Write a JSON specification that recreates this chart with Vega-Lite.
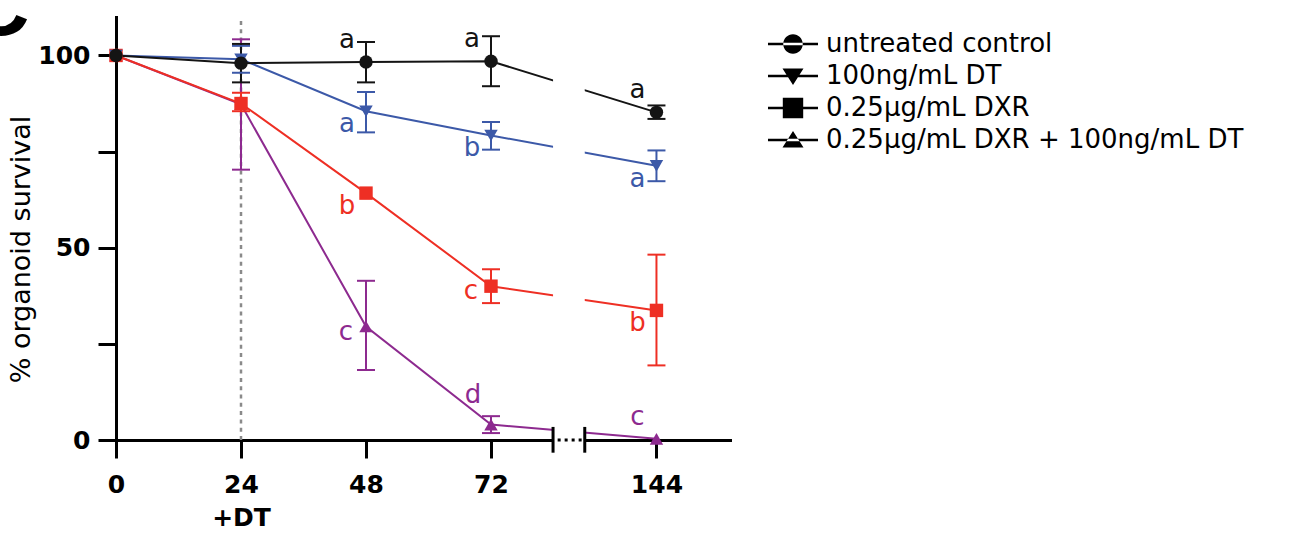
{
  "$schema": "https://vega.github.io/schema/vega-lite/v6.json",
  "width": 614,
  "height": 423,
  "autosize": {"type": "none"},
  "padding": {"left": 116, "top": 17, "right": 561, "bottom": 93},
  "background": "white",
  "title": {"text": "C", "anchor": "start", "frame": "group", "fontSize": 85, "fontWeight": "bold", "font": "Liberation Sans", "color": "black", "baseline": "alphabetic", "offset": -18, "dx": -148, "dy": 86},
  "config": {
    "view": {"stroke": null},
    "font": "DejaVu Sans",
    "legend": {
      "orient": "none", "legendX": 662, "legendY": 12, "padding": 0,
      "symbolSize": 900, "symbolStrokeWidth": 0, "symbolOpacity": 1,
      "labelOffset": 18, "labelFont": "DejaVu Sans", "labelFontSize": 26, "labelColor": "black",
      "labelLimit": 700, "rowPadding": 4, "title": null
    }
  },
  "datasets": {
    "obs": [
      {"group": "0.25μg/mL DXR + 100ng/mL DT", "t": 0, "v": 100, "lo": null, "hi": null},
      {"group": "0.25μg/mL DXR + 100ng/mL DT", "t": 24, "v": 87.3, "lo": 70.3, "hi": 104.2},
      {"group": "0.25μg/mL DXR + 100ng/mL DT", "t": 48, "v": 29.5, "lo": 18.2, "hi": 41.4},
      {"group": "0.25μg/mL DXR + 100ng/mL DT", "t": 72, "v": 4, "lo": 1.8, "hi": 6.2},
      {"group": "0.25μg/mL DXR + 100ng/mL DT", "t": 144, "v": 0.3, "lo": null, "hi": null},
      {"group": "0.25μg/mL DXR", "t": 0, "v": 100, "lo": null, "hi": null},
      {"group": "0.25μg/mL DXR", "t": 24, "v": 87.5, "lo": 85.5, "hi": 90.3},
      {"group": "0.25μg/mL DXR", "t": 48, "v": 64.2, "lo": null, "hi": null},
      {"group": "0.25μg/mL DXR", "t": 72, "v": 40, "lo": 35.6, "hi": 44.4},
      {"group": "0.25μg/mL DXR", "t": 144, "v": 33.7, "lo": 19.4, "hi": 48.2},
      {"group": "100ng/mL DT", "t": 0, "v": 100, "lo": null, "hi": null},
      {"group": "100ng/mL DT", "t": 24, "v": 99, "lo": 95.5, "hi": 102.5},
      {"group": "100ng/mL DT", "t": 48, "v": 85.5, "lo": 80, "hi": 90.5},
      {"group": "100ng/mL DT", "t": 72, "v": 79.2, "lo": 75.5, "hi": 82.7},
      {"group": "100ng/mL DT", "t": 144, "v": 71.3, "lo": 67.3, "hi": 75.3},
      {"group": "untreated control", "t": 0, "v": 100, "lo": null, "hi": null},
      {"group": "untreated control", "t": 24, "v": 98, "lo": 93, "hi": 103},
      {"group": "untreated control", "t": 48, "v": 98.3, "lo": 93, "hi": 103.5},
      {"group": "untreated control", "t": 72, "v": 98.5, "lo": 92, "hi": 105},
      {"group": "untreated control", "t": 144, "v": 85.2, "lo": 83.5, "hi": 87}
    ],
    "letters": [
      {"group": "untreated control", "t": 48, "v": 98.3, "label": "a", "place": "above"},
      {"group": "untreated control", "t": 72, "v": 98.5, "label": "a", "place": "above"},
      {"group": "untreated control", "t": 144, "v": 85.2, "label": "a", "place": "above"},
      {"group": "100ng/mL DT", "t": 48, "v": 85.5, "label": "a", "place": "below"},
      {"group": "100ng/mL DT", "t": 72, "v": 79.2, "label": "b", "place": "below"},
      {"group": "100ng/mL DT", "t": 144, "v": 71.3, "label": "a", "place": "below"},
      {"group": "0.25μg/mL DXR", "t": 48, "v": 64.2, "label": "b", "place": "below"},
      {"group": "0.25μg/mL DXR", "t": 72, "v": 40, "label": "c", "place": "left"},
      {"group": "0.25μg/mL DXR", "t": 144, "v": 33.7, "label": "b", "place": "below"},
      {"group": "0.25μg/mL DXR + 100ng/mL DT", "t": 48, "v": 29.5, "label": "c", "place": "left"},
      {"group": "0.25μg/mL DXR + 100ng/mL DT", "t": 72, "v": 4, "label": "d", "place": "high"},
      {"group": "0.25μg/mL DXR + 100ng/mL DT", "t": 144, "v": 0.3, "label": "c", "place": "above"}
    ],
    "guides": [{"t": 24}],
    "brk": [{"t": 99}, {"t": 112.8}]
  },
  "layer": [
    {
      "data": {"name": "obs"},
      "mark": {"type": "line", "strokeWidth": 2},
      "encoding": {
        "x": {"field": "t", "type": "quantitative",
          "scale": {"type": "linear", "domain": [0, 72, 176], "range": [0, 375, 614], "nice": false, "zero": false},
          "axis": {"values": [0, 24, 48, 72, 144], "title": null, "grid": false,
            "labelExpr": "datum.value == 24 ? ['24', '+DT'] : datum.label",
            "domainWidth": 3, "domainColor": "black", "domainCap": "square", "tickWidth": 3, "tickSize": 18, "tickColor": "black",
            "labelFont": "DejaVu Sans", "labelFontWeight": "bold", "labelFontSize": 25, "labelColor": "black",
            "labelPadding": 14, "labelLineHeight": 33, "labelFlush": false, "labelOverlap": false}},
        "y": {"field": "v", "type": "quantitative",
          "scale": {"domain": [0, 110], "nice": false},
          "axis": {"values": [0, 25, 50, 75, 100], "title": "% organoid survival", "grid": false,
            "labelExpr": "datum.value % 50 == 0 ? datum.label : ''",
            "domainWidth": 3, "domainColor": "black", "domainCap": "square", "tickWidth": 3, "tickSize": 18, "tickColor": "black",
            "labelFont": "DejaVu Sans", "labelFontWeight": "bold", "labelFontSize": 25, "labelColor": "black",
            "labelPadding": 8, "labelOverlap": false,
            "titleFont": "DejaVu Sans", "titleFontWeight": "normal", "titleFontSize": 27, "titleColor": "black",
            "titlePadding": 2, "titleY": 232}},
        "color": {"field": "group", "type": "nominal", "legend": null,
          "scale": {"domain": ["untreated control", "100ng/mL DT", "0.25μg/mL DXR", "0.25μg/mL DXR + 100ng/mL DT"], "range": ["#141414", "#3c59a8", "#ee2f24", "#8d2a8f"]}}
      }
    },
    {
      "data": {"name": "guides"},
      "mark": {"type": "rule", "color": "#8a8a8a", "strokeWidth": 2.5, "strokeDash": [4, 4.3]},
      "encoding": {
        "x": {"field": "t", "type": "quantitative"},
        "y": {"datum": 0, "type": "quantitative"},
        "y2": {"datum": 110}
      }
    },
    {
      "data": {"name": "obs"},
      "transform": [{"filter": "datum.lo != null"}],
      "mark": {"type": "rule", "strokeWidth": 2},
      "encoding": {
        "x": {"field": "t", "type": "quantitative"},
        "y": {"field": "lo", "type": "quantitative"},
        "y2": {"field": "hi"},
        "color": {"field": "group", "type": "nominal", "legend": null}
      }
    },
    {
      "data": {"name": "obs"},
      "transform": [{"filter": "datum.lo != null"}],
      "mark": {"type": "tick", "orient": "horizontal", "size": 18, "thickness": 2, "opacity": 1},
      "encoding": {
        "x": {"field": "t", "type": "quantitative"},
        "y": {"field": "lo", "type": "quantitative"},
        "color": {"field": "group", "type": "nominal", "legend": null}
      }
    },
    {
      "data": {"name": "obs"},
      "transform": [{"filter": "datum.hi != null"}],
      "mark": {"type": "tick", "orient": "horizontal", "size": 18, "thickness": 2, "opacity": 1},
      "encoding": {
        "x": {"field": "t", "type": "quantitative"},
        "y": {"field": "hi", "type": "quantitative"},
        "color": {"field": "group", "type": "nominal", "legend": null}
      }
    },
    {
      "data": {"name": "obs"},
      "mark": {"type": "point", "filled": true, "size": 180, "opacity": 1},
      "encoding": {
        "x": {"field": "t", "type": "quantitative"},
        "y": {"field": "v", "type": "quantitative"},
        "color": {"field": "group", "type": "nominal", "legend": null},
        "shape": {"field": "group", "type": "nominal", "legend": null,
          "scale": {"domain": ["untreated control", "100ng/mL DT", "0.25μg/mL DXR", "0.25μg/mL DXR + 100ng/mL DT"], "range": ["circle", "triangle-down", "square", "triangle-up"]}}
      }
    },
    {
      "data": {"name": "brk"},
      "mark": {"type": "rect", "color": "white", "opacity": 1},
      "transform": [{"filter": "datum.t < 100"}],
      "encoding": {
        "x": {"field": "t", "type": "quantitative"},
        "x2": {"datum": 112.8},
        "y": {"datum": -4, "type": "quantitative"},
        "y2": {"datum": 110}
      }
    },
    {
      "data": {"name": "brk"},
      "mark": {"type": "rule", "color": "black", "strokeWidth": 3},
      "encoding": {
        "x": {"field": "t", "type": "quantitative"},
        "y": {"datum": -3.3, "type": "quantitative"},
        "y2": {"datum": 3.4}
      }
    },
    {
      "data": {"name": "brk"},
      "transform": [{"filter": "datum.t < 100"}],
      "mark": {"type": "rule", "color": "black", "strokeWidth": 3, "strokeDash": [3, 4]},
      "encoding": {
        "x": {"datum": 101, "type": "quantitative"},
        "x2": {"datum": 111.5},
        "y": {"datum": 0, "type": "quantitative"}
      }
    },
    {
      "data": {"name": "letters"},
      "transform": [{"filter": "datum.place == 'above'"}],
      "mark": {"type": "text", "fontSize": 26, "font": "DejaVu Sans", "align": "center", "baseline": "alphabetic", "dx": -19, "dy": -14},
      "encoding": {
        "x": {"field": "t", "type": "quantitative"},
        "y": {"field": "v", "type": "quantitative"},
        "text": {"field": "label"},
        "color": {"field": "group", "type": "nominal", "legend": null}
      }
    },
    {
      "data": {"name": "letters"},
      "transform": [{"filter": "datum.place == 'below'"}],
      "mark": {"type": "text", "fontSize": 26, "font": "DejaVu Sans", "align": "center", "baseline": "alphabetic", "dx": -19, "dy": 21},
      "encoding": {
        "x": {"field": "t", "type": "quantitative"},
        "y": {"field": "v", "type": "quantitative"},
        "text": {"field": "label"},
        "color": {"field": "group", "type": "nominal", "legend": null}
      }
    },
    {
      "data": {"name": "letters"},
      "transform": [{"filter": "datum.place == 'left'"}],
      "mark": {"type": "text", "fontSize": 26, "font": "DejaVu Sans", "align": "center", "baseline": "alphabetic", "dx": -20, "dy": 13},
      "encoding": {
        "x": {"field": "t", "type": "quantitative"},
        "y": {"field": "v", "type": "quantitative"},
        "text": {"field": "label"},
        "color": {"field": "group", "type": "nominal", "legend": null}
      }
    },
    {
      "data": {"name": "letters"},
      "transform": [{"filter": "datum.place == 'high'"}],
      "mark": {"type": "text", "fontSize": 26, "font": "DejaVu Sans", "align": "center", "baseline": "alphabetic", "dx": -18, "dy": -22},
      "encoding": {
        "x": {"field": "t", "type": "quantitative"},
        "y": {"field": "v", "type": "quantitative"},
        "text": {"field": "label"},
        "color": {"field": "group", "type": "nominal", "legend": null}
      }
    },
    {
      "data": {"name": "obs"},
      "transform": [{"filter": "false"}],
      "mark": {"type": "point", "filled": true, "size": 900, "opacity": 1},
      "encoding": {
        "x": {"field": "t", "type": "quantitative"},
        "y": {"field": "v", "type": "quantitative"},
        "shape": {"field": "group", "type": "nominal", "title": null,
          "scale": {"domain": ["untreated control", "100ng/mL DT", "0.25μg/mL DXR", "0.25μg/mL DXR + 100ng/mL DT"],
            "range": [
              "M-1.667,-0.09H1.667V0.09H-1.667ZM-0.65,0A0.65,0.65,0,1,0,0.65,0A0.65,0.65,0,1,0,-0.65,0Z",
              "M-1.667,-0.09H1.667V0.09H-1.667ZM-0.7,-0.5L0.7,-0.5L0,0.6Z",
              "M-1.667,-0.09H1.667V0.09H-1.667ZM-0.68,-0.68H0.68V0.68H-0.68Z",
              "M-1.667,-0.09H1.667V0.09H-1.667ZM-0.7,0.5L0.7,0.5L0,-0.6Z"
            ]}},
        "fill": {"field": "group", "type": "nominal", "title": null,
          "scale": {"domain": ["untreated control", "100ng/mL DT", "0.25μg/mL DXR", "0.25μg/mL DXR + 100ng/mL DT"], "range": ["#141414", "#3c59a8", "#ee2f24", "#8d2a8f"]}}
      }
    }
  ],
  "resolve": {"scale": {"shape": "independent"}, "legend": {"shape": "independent"}}
}
